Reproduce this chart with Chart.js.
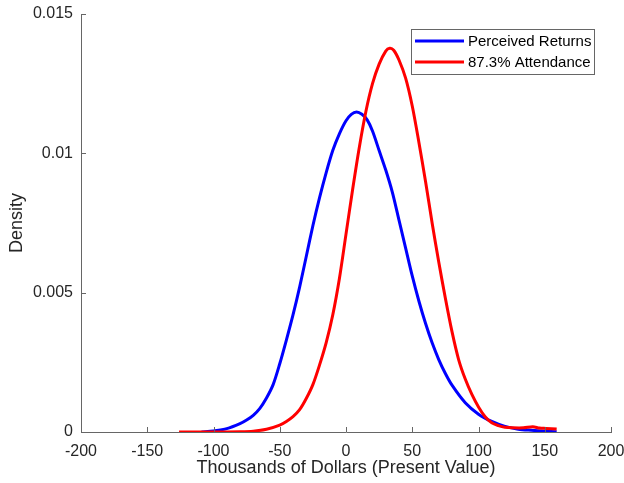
<!DOCTYPE html>
<html>
<head>
<meta charset="utf-8">
<script src="https://cdn.jsdelivr.net/npm/chart.js@4.4.1/dist/chart.umd.min.js"></script>
<style>
  body { margin: 0; background: #fff; }
</style>
</head>
<body>
<canvas id="myChart" width="624" height="483"></canvas>
<script>
// Series (x in thousands of dollars, y = density)
const seriesNames = ['Perceived Returns', '87.3% Attendance'];

const perceivedX = [-109, -100, -90, -80, -75, -70, -65, -60, -55, -50, -45, -40, -35, -30, -25, -20, -15, -10, -5, 0, 4, 8, 12, 16, 20, 25, 30, 35, 40, 45, 50, 55, 60, 65, 70, 75, 80, 90, 100, 110, 120, 130, 140, 150, 159];
const perceivedY = [0, 0.00004, 0.00012, 0.0003, 0.00043, 0.0006, 0.00085, 0.00122, 0.0017, 0.00245, 0.0033, 0.0042, 0.0052, 0.0063, 0.0074, 0.0084, 0.0093, 0.0101, 0.0107, 0.01117, 0.0114, 0.01148, 0.0114, 0.0112, 0.0108, 0.0101, 0.0094, 0.0086, 0.0076, 0.0066, 0.0056, 0.0047, 0.0039, 0.0032, 0.0026, 0.0021, 0.00168, 0.00105, 0.00064, 0.00038, 0.0002, 0.0001, 0.00006, 0.00003, 0.00001];

const attendanceX = [-126, -100, -80, -70, -60, -50, -45, -40, -35, -30, -25, -20, -15, -10, -5, 0, 5, 10, 15, 20, 25, 30, 33, 36, 40, 45, 50, 55, 60, 65, 70, 75, 80, 85, 90, 95, 100, 105, 110, 115, 120, 126, 134, 141, 146, 151, 159];
const attendanceY = [0, 0, 0.00001, 0.00003, 0.0001, 0.00025, 0.00038, 0.00055, 0.0008, 0.0012, 0.0017, 0.0024, 0.0032, 0.0042, 0.0055, 0.0071, 0.0087, 0.0102, 0.0115, 0.0125, 0.0132, 0.01367, 0.01377, 0.0137, 0.01335, 0.0127, 0.0117, 0.0104, 0.009, 0.0075, 0.0061, 0.0048, 0.0036, 0.0026, 0.0019, 0.00135, 0.0009, 0.00055, 0.00033, 0.00023, 0.00017, 0.00015, 0.00015, 0.00019, 0.00014, 0.00013, 0.00011];

const xTicks = [-200, -150, -100, -50, 0, 50, 100, 150, 200];
const yTicks = [0, 0.005, 0.01, 0.015];

const textColor = '#262626';
const axisColor = '#666666';
const fontFamily = '"Liberation Sans", Arial, sans-serif';

function toPoints(xs, ys) {
    return xs.map((x, i) => ({ x: x, y: ys[i] }));
}

// inward tick marks, matlab style
const innerTicks = {
    id: 'innerTicks',
    afterDraw(chart) {
        const c = chart.ctx;
        const xs = chart.scales.x;
        const ys = chart.scales.y;
        const area = chart.chartArea;
        c.save();
        c.strokeStyle = axisColor;
        c.lineWidth = 1;
        c.beginPath();
        xTicks.forEach(v => {
            const px = Math.round(xs.getPixelForValue(v)) + 0.5;
            c.moveTo(px, area.bottom);
            c.lineTo(px, area.bottom - 5);
        });
        yTicks.forEach(v => {
            const py = Math.round(ys.getPixelForValue(v)) + 0.5;
            c.moveTo(area.left, py);
            c.lineTo(area.left + 5, py);
        });
        c.stroke();
        c.restore();
    }
};

// legend box in the upper right corner
const boxLegend = {
    id: 'boxLegend',
    afterDraw(chart) {
        const c = chart.ctx;
        const left = 411, top = 29, w = 183, h = 45;
        c.save();
        c.fillStyle = '#fff';
        c.fillRect(left, top, w, h);
        c.strokeStyle = axisColor;
        c.lineWidth = 1;
        c.strokeRect(left + 0.5, top + 0.5, w, h);
        c.font = '15px ' + fontFamily;
        c.textBaseline = 'middle';
        chart.data.datasets.forEach((ds, i) => {
            const y = top + 12 + i * 21;
            c.strokeStyle = ds.borderColor;
            c.lineWidth = 3;
            c.beginPath();
            c.moveTo(left + 4, y);
            c.lineTo(left + 53, y);
            c.stroke();
            c.fillStyle = '#000';
            c.fillText(ds.label, left + 57, y + 1);
        });
        c.restore();
    }
};

const ctx = document.getElementById('myChart');
const myChart = new Chart(ctx, {
    type: 'line',
    data: {
        datasets: [{
            label: seriesNames[0],
            data: toPoints(perceivedX, perceivedY),
            borderColor: '#0000ff',
            borderWidth: 3,
            pointRadius: 0,
            tension: 0.3,
            order: 1
        }, {
            label: seriesNames[1],
            data: toPoints(attendanceX, attendanceY),
            borderColor: '#ff0000',
            borderWidth: 3,
            pointRadius: 0,
            tension: 0.3,
            order: 0
        }]
    },
    options: {
        responsive: false,
        animation: false,
        layout: { padding: { top: 14, right: 13, left: 0, bottom: 0 } },
        plugins: {
            legend: { display: false },
            tooltip: { enabled: false }
        },
        scales: {
            x: {
                type: 'linear',
                min: -200,
                max: 200,
                afterBuildTicks: s => { s.ticks = xTicks.map(v => ({ value: v })); },
                afterFit: s => { s.height = 51; s.paddingLeft = 0; s.paddingRight = 0; },
                grid: { display: false, drawTicks: false },
                border: { display: true, color: axisColor, width: 1 },
                ticks: {
                    color: textColor,
                    padding: 10,
                    maxRotation: 0,
                    font: { family: fontFamily, size: 16 },
                    callback: v => String(v)
                },
                title: {
                    display: true,
                    text: 'Thousands of Dollars (Present Value)',
                    color: textColor,
                    padding: { top: 0, bottom: 4 },
                    font: { family: fontFamily, size: 18 }
                }
            },
            y: {
                min: 0,
                max: 0.015,
                afterBuildTicks: s => { s.ticks = yTicks.map(v => ({ value: v })); },
                afterFit: s => { s.width = 81; s.paddingTop = 0; s.paddingBottom = 0; },
                grid: { display: false, drawTicks: false },
                border: { display: true, color: axisColor, width: 1 },
                ticks: {
                    color: textColor,
                    padding: 8,
                    font: { family: fontFamily, size: 16 },
                    callback: v => String(+Number(v).toFixed(3))
                },
                title: {
                    display: true,
                    text: 'Density',
                    color: textColor,
                    padding: { top: 6, bottom: 0 },
                    font: { family: fontFamily, size: 18 }
                }
            }
        }
    },
    plugins: [innerTicks, boxLegend]
});
</script>
</body>
</html>
